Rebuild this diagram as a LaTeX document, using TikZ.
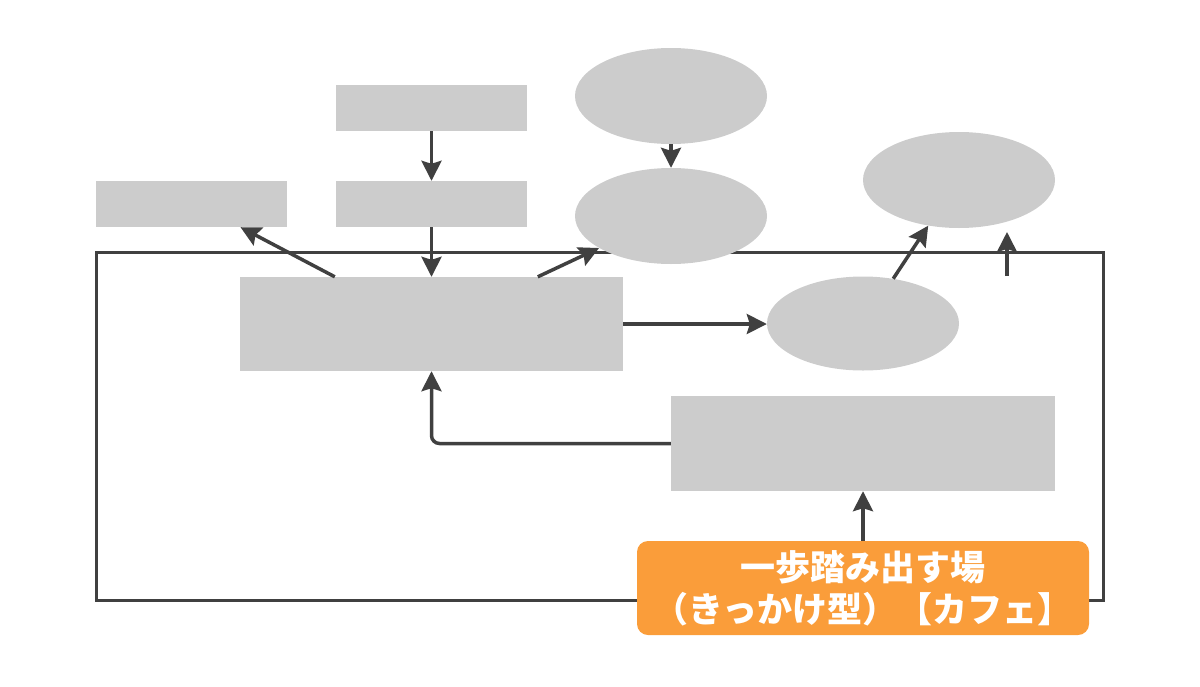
\documentclass[tikz,border=0pt]{standalone}
\usepackage{fontspec}
\newfontfamily\cjk{Noto Sans CJK JP}
\usetikzlibrary{arrows.meta,shapes.geometric}
\definecolor{boxgray}{HTML}{CCCCCC}
\definecolor{linegray}{HTML}{404040}
\definecolor{orng}{HTML}{FA9D3A}
\tikzset{
  grect/.style={fill=boxgray,draw=none,rectangle,inner sep=0pt},
  gell/.style={fill=boxgray,draw=none,ellipse,inner sep=0pt,minimum width=192pt,minimum height=96pt},
  arr/.style={draw=linegray,line width=3.5pt,-{Stealth[length=20pt,width=20pt,inset=3pt]}},
  frameline/.style={draw=linegray,line width=3pt},
  orbox/.style={fill=orng,draw=none,rounded corners=11pt,inner sep=0pt,minimum width=452pt,minimum height=94pt,text=white,align=center,font=\cjk\bfseries\fontsize{35}{42}\selectfont}
}
\begin{document}
\begin{tikzpicture}[x=1pt,y=-1pt]
\useasboundingbox (0,0) rectangle (1200,686);
% frame
\draw[frameline] (96,252) rectangle (1103,600);
% nodes
\node[grect,minimum width=191pt,minimum height=46pt] (A) at (431.5,108) {};
\node[grect,minimum width=191pt,minimum height=46pt] (B) at (431.5,204) {};
\node[grect,minimum width=191pt,minimum height=46pt] (C) at (191.5,204) {};
\node[gell] (E1) at (671,96) {};
\node[gell] (E2) at (671,216) {};
\node[gell] (E3) at (959,180) {};
\node[grect,minimum width=383pt,minimum height=94pt] (D) at (431.5,324) {};
\node[gell,minimum height=94pt] (E4) at (863,323.5) {};
\node[grect,minimum width=384pt,minimum height=95pt] (F) at (863,443.5) {};
\node[orbox] (O) at (863,588) {一歩踏み出す場\\（きっかけ型）【カフェ】};
\coordinate (free1) at (1007,276);
\coordinate (free2) at (1007,232);
% connectors
\draw[arr] (A.south) -- (B.north);
\draw[arr] (B.south) -- (D.north);
\draw[arr] (E1.south) -- (E2.north);
\draw[arr] ([xshift=95pt]D.north west) -- ([xshift=49pt]C.south);
\draw[arr] ([xshift=298pt]D.north west) -- (E2.204);
\draw[arr] (D.east) -- (D.east -| E4.west);
\draw[arr] (E4.56) -- (E3.236);
\draw[arr] (free1) -- (free2);
\draw[arr,rounded corners=8pt] (F.west) -| (D.south);
\draw[arr] (O.north) -- (F.south);
\end{tikzpicture}
\end{document}
